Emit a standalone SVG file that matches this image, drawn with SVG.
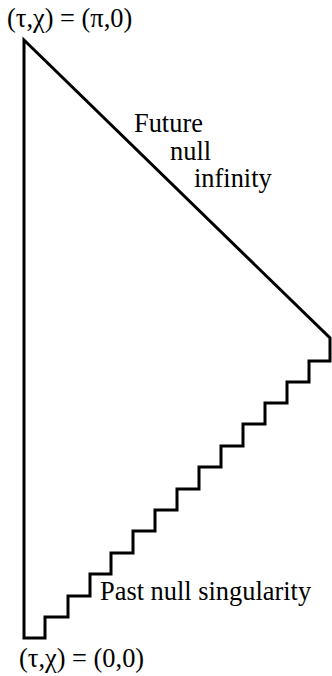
<svg xmlns="http://www.w3.org/2000/svg" width="332" height="676" viewBox="0 0 332 676">
<style>
.t{font-family:'Liberation Serif',Tinos,Times,serif;font-size:26.4px;fill:#000}
.l{fill:none;stroke:#000;stroke-width:3;stroke-linejoin:miter}
</style>
<rect width="332" height="676" fill="#fff"/>
<g id="connectors">
<path class="l" d="M24,40 L330,338 L330,361 L309,361 L309,382 L287,382 L287,403 L265,403 L265,424 L243,424 L243,446 L221,446 L221,467 L199,467 L199,489 L177,489 L177,510 L155,510 L155,531 L133,531 L133,553 L111,553 L111,574 L90,574 L90,596 L68,596 L68,617 L45,617 L45,638 L24,638 Z"/>
</g>
<g id="label-top"><text class="t" x="7" y="27">(τ,χ) = (π,0)</text></g>
<g id="label-future">
<text class="t" x="134" y="132">Future</text>
<text class="t" x="170" y="160">null</text>
<text class="t" x="194" y="187">infinity</text>
</g>
<g id="label-past"><text class="t" x="100" y="600">Past null singularity</text></g>
<g id="label-bottom"><text class="t" x="19" y="667">(τ,χ) = (0,0)</text></g>
</svg>
